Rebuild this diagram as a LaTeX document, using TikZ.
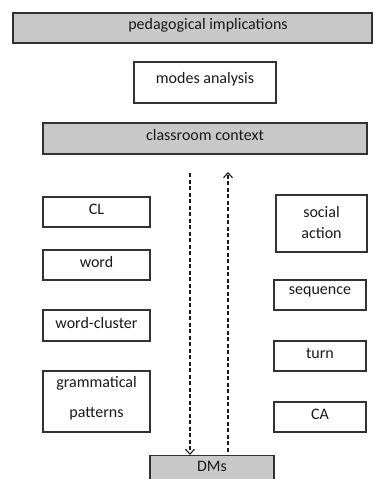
\documentclass[tikz,border=0pt]{standalone}
\usepackage{fontspec}
\setmainfont{Carlito}
\usetikzlibrary{arrows.meta}
\definecolor{boxgray}{RGB}{200,200,200}
\definecolor{edge}{RGB}{50,50,50}
\tikzset{
  box/.style={draw=edge, line width=1.2pt, inner sep=0pt},
  graybox/.style={box, fill=boxgray},
  txt/.style={inner sep=0pt, font=\fontsize{16}{19}\selectfont, text=black!90},
  flow/.style={draw=black!90, line width=1.2pt, dash pattern=on 4pt off 2.5pt,
    -{Straight Barb[length=5pt,width=9pt,line width=1.1pt]}}
}
\begin{document}
\begin{tikzpicture}[x=1pt,y=-1pt]
\clip (0,0) rectangle (374,479);
\fill[white] (0,0) rectangle (374,479);
% boxes
\node[graybox, minimum width=359pt, minimum height=30pt] (ped) at (192.5,28) {};
\node[txt] (pedt) at (208,25) {pedagogical implications};
\node[box, minimum width=142pt, minimum height=41pt] (modes) at (205,82.5) {};
\node[txt] (modest) at (205,79) {modes analysis};
\node[graybox, minimum width=324pt, minimum height=31pt] (ctx) at (205,138.5) {};
\node[txt] (ctxt) at (205,135) {classroom context};
% left column
\node[box, minimum width=107pt, minimum height=30pt] (cl) at (96.5,212) {};
\node[txt] (clt) at (96.5,209) {CL};
\node[box, minimum width=107pt, minimum height=30pt] (word) at (96.5,265) {};
\node[txt] (wordt) at (96.5,262) {word};
\node[box, minimum width=107pt, minimum height=31pt] (wc) at (96.5,325.5) {};
\node[txt] (wct) at (96.5,322.5) {word-cluster};
\node[box, minimum width=107pt, minimum height=61pt] (gp) at (96.5,401.5) {};
\node[txt] (gpt1) at (96.5,383.5) {grammatical};
\node[txt] (gpt2) at (96.5,413.5) {patterns};
% right column
\node[box, minimum width=91pt, minimum height=57pt] (sa) at (321.5,223.5) {};
\node[txt] (sat1) at (321.5,212) {social};
\node[txt] (sat2) at (321.5,233.5) {action};
\node[box, minimum width=92pt, minimum height=30pt] (seq) at (320,295) {};
\node[txt] (seqt) at (320,292) {sequence};
\node[box, minimum width=92pt, minimum height=30pt] (turn) at (320,356) {};
\node[txt] (turnt) at (320,353) {turn};
\node[box, minimum width=92pt, minimum height=30pt] (ca) at (320,417) {};
\node[txt] (cat) at (320,414) {CA};
% DMs
\node[graybox, minimum width=124pt, minimum height=36pt, anchor=north] (dms) at (212,455) {};
\node[txt] (dmst) at (212,466) {DMs};
% arrows
\coordinate (dtop) at (190,173);
\coordinate (utop) at (228,172);
\draw[flow] (dtop) -- (dms.north -| dtop);
\draw[flow, shorten <=3.5pt] (dms.north -| utop) -- (utop);
\end{tikzpicture}
\end{document}
